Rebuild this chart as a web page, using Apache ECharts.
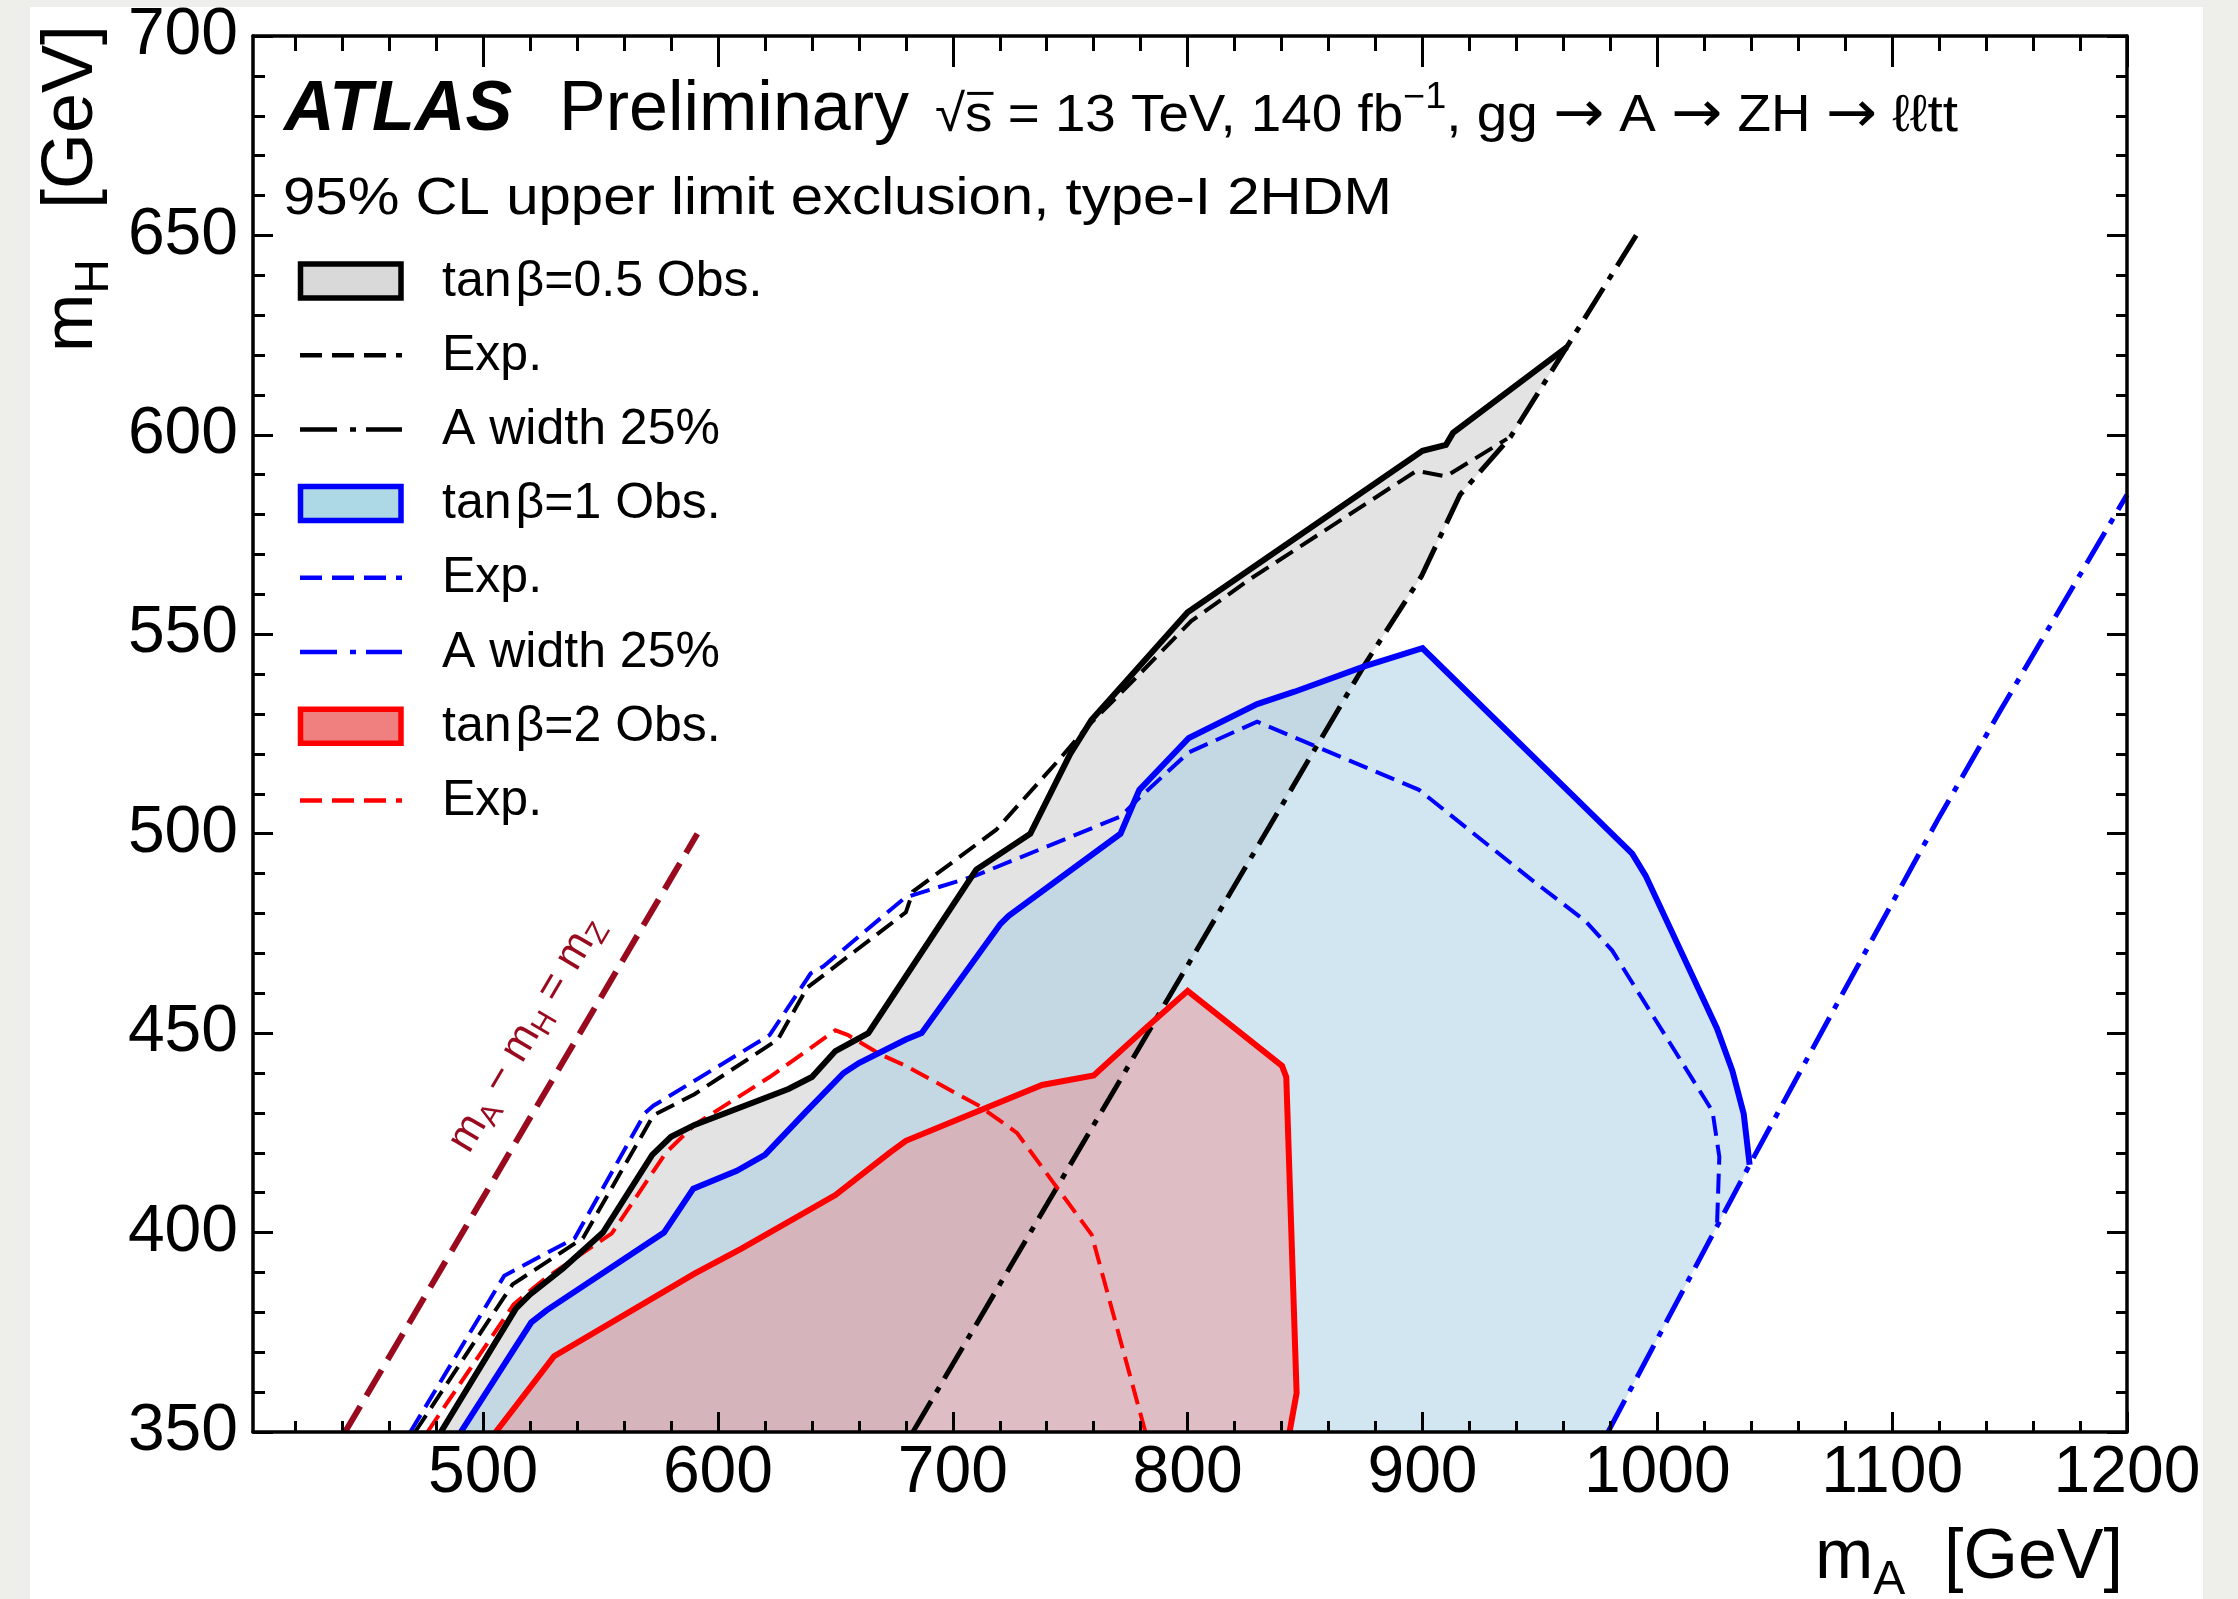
<!DOCTYPE html>
<html><head><meta charset="utf-8">
<script src="https://cdn.jsdelivr.net/npm/echarts@6/dist/echarts.min.js"></script>
<style>html,body{margin:0;padding:0;background:#eeeeea;} #c{width:2238px;height:1599px;}</style>
</head><body><div id="c"></div>
<script>
// ---------------- data (mA, mH) in GeV ----------------
const tb05Obs = [[482,350],[514,381],[520,384.5],[534,391],[551,400],[572,419.5],[580,424],[590,427],[630,436],[640,439],[650,445.5],[664,450],[710,491],[733,500],[750,520],[759,528.5],[800,555.5],[900,596],[910,597.5],[913,600.5],[961.5,622]];
const tb05Exp = [[471,350],[512.5,387],[542.5,398.6],[572.5,429.4],[590,434.7],[625.5,448.4],[638,461.4],[680,480.3],[683,485.5],[718.5,501],[745,518.4],[757.5,527],[777,538.5],[801.5,553.3],[826.5,563.8],[897.5,591],[910,589.6],[936,599]];
const tb05Width = [[683,350],[875.5,542.5],[899.5,564.5],[916,585],[937.5,599.5],[963,623.5],[991.5,650.5]];
const tb1Obs = [[490.5,350],[520.5,377.5],[527,380.5],[577,400],[589.5,411],[608,415.5],[620,419.5],[637,430],[653.5,440],[660,442.5],[680,448.4],[686.7,450],[720.3,477.4],[723.8,479.4],[771.4,500],[779.4,511],[800.5,524],[829.6,532.5],[845.5,535.6],[875.5,542],[900,546.5],[989.3,495],[995,489.5],[1025.4,451.2],[1032,440.5],[1036.8,429.7],[1039.3,417]];
const tb1Exp = [[469,350],[509,389.2],[539,398.6],[569,430],[572.5,431.8],[622,449.5],[639.5,465],[644.8,466.7],[679.7,484],[709.7,489.5],[771.4,504.3],[779.4,509],[800.5,520.4],[829.6,528.1],[898.5,511],[945.7,488.8],[969.4,478.1],[980.8,470.7],[1023.5,430.4],[1026.4,419],[1025.4,401.5]];
const tb1Width = [[979,350],[1039.3,417],[1075.8,456.6],[1119.5,503.6],[1145.7,530.5],[1200,585]];
const tb2Obs = [[505.4,350],[530.2,369],[590,389.7],[610,396],[650,409.4],[673,420],[680,423],[713,431],[738,437],[760,439.4],[782,451.2],[800,460.6],[840.2,441.8],[842,439],[846.4,359.8],[843.4,350]];
const tb2Exp = [[476.3,350],[513,382],[526.6,388.6],[554.8,399.8],[577.8,420],[590,427],[622,439],[650,450.7],[655.4,449.5],[669,444.7],[680,441.8],[711.4,431.7],[727.3,425],[743.2,412.2],[759.1,399.5],[782,350]];
const mzLine = [[441.2,350],[591.2,500]];

const xMajor = [500,600,700,800,900,1000,1100,1200];
const xMinor = [420,440,460,480,520,540,560,580,620,640,660,680,720,740,760,780,820,840,860,880,920,940,960,980,1020,1040,1060,1080,1120,1140,1160,1180];
const yMajor = [350,400,450,500,550,600,650,700];
const yMinor = [360,370,380,390,410,420,430,440,460,470,480,490,510,520,530,540,560,570,580,590,610,620,630,640,660,670,680,690];

const legendRows = [
  {label:'tanβ=0.5 Obs.', kind:'box', fill:'#d9d9d9', stroke:'#000000'},
  {label:'Exp.', kind:'dash', color:'#000000'},
  {label:'A width 25%', kind:'dashdot', color:'#000000'},
  {label:'tanβ=1 Obs.', kind:'box', fill:'#add8e6', stroke:'#0000ff'},
  {label:'Exp.', kind:'dash', color:'#0000ff'},
  {label:'A width 25%', kind:'dashdot', color:'#0000ff'},
  {label:'tanβ=2 Obs.', kind:'box', fill:'#f08080', stroke:'#ff0000'},
  {label:'Exp.', kind:'dash', color:'#ff0000'}
];

// ---------------- setup ----------------
const FF = '"Liberation Sans", Arial, Helvetica, sans-serif';
const FD = '"DejaVu Sans", sans-serif';
const XMIN = 402, XMAX = 1200, YMIN = 350, YMAX = 700;
const mctx = document.createElement('canvas').getContext('2d');
function tw(t, s, w, st, f){ mctx.font = (st||'normal') + ' ' + (w||'normal') + ' ' + s + 'px ' + (f||FF); return mctx.measureText(t).width; }
function runs(parts, x, y, opt){
  opt = opt || {};
  const color = opt.color || '#000';
  let cx = 0; const ch = [];
  for (const p of parts){
    if (p.gap !== undefined){ cx += p.gap; continue; }
    const wid = tw(p.t, p.s, p.w, p.st, p.f);
    const dy = p.dy || 0;
    ch.push({type:'text', x:cx, y:dy - 0.347*p.s, z:100, style:{text:p.t, fill:color, fontSize:p.s, fontFamily:p.f||FF, fontWeight:p.w||'normal', fontStyle:p.st||'normal', align:'left', verticalAlign:'middle'}});
    if (p.over){ ch.push({type:'line', z:100, shape:{x1:cx+2, y1:dy-0.8*p.s, x2:cx+wid+1, y2:dy-0.8*p.s}, style:{stroke:color, lineWidth:3}}); }
    cx += wid;
  }
  let sc = 1;
  if (opt.fit) sc = opt.fit / cx;
  if (opt.anchor === 'end'){
    ch.forEach(c => { if (c.type === 'text') c.x -= cx; else { c.shape.x1 -= cx; c.shape.x2 -= cx; } });
  }
  return {type:'group', x:x, y:y, rotation:opt.rot||0, scaleX:sc, z:100, children:ch};
}

const chart = echarts.init(document.getElementById('c'), null, {renderer:'canvas', width:2238, height:1599});

function mkAxis(dimMin, dimMax, a){
  return {
    type:'value', min:dimMin, max:dimMax, position:a.pos, z:10,
    axisLine:{show:!!a.line, onZero:false, lineStyle:{color:'#000', width:3.5}},
    axisTick:{show:true, inside:true, length:a.len, customValues:a.vals, lineStyle:{color:'#000', width:3}},
    axisLabel:{show:!!a.label, customValues:a.vals, margin:a.margin||10, color:'#000', fontSize:66, fontFamily:FF, formatter:function(v){return String(v);}},
    splitLine:{show:false}, minorTick:{show:false}, minorSplitLine:{show:false}
  };
}
const xAxes = [
  {pos:'bottom', vals:xMajor, len:20, label:true, line:true, margin:9},
  {pos:'bottom', vals:xMinor, len:11},
  {pos:'top', vals:xMajor, len:31, line:true},
  {pos:'top', vals:xMinor, len:15}
].map(a => mkAxis(XMIN, XMAX, a));
const yAxes = [
  {pos:'left', vals:yMajor, len:20, label:true, line:true, margin:15},
  {pos:'left', vals:yMinor, len:12},
  {pos:'right', vals:yMajor, len:20, line:true},
  {pos:'right', vals:yMinor, len:11}
].map(a => mkAxis(YMIN, YMAX, a));

function polySeries(pts, fill, z){
  return {type:'custom', coordinateSystem:'cartesian2d', xAxisIndex:0, yAxisIndex:0, clip:true, silent:true, z:z,
    data:pts, encode:{x:0, y:1},
    renderItem:function(params, api){
      if (params.dataIndex !== 0) return null;
      return {type:'polygon', shape:{points:pts.map(p => api.coord(p))}, style:{fill:fill, stroke:null}};
    }};
}
function lineSeries(pts, color, width, type, z){
  return {type:'line', data:pts, xAxisIndex:0, yAxisIndex:0, showSymbol:false, symbol:'none', clip:true, silent:true, animation:false, z:z,
    lineStyle:{color:color, width:width, type:type, cap:'butt', join:'miter'}};
}

const greyPoly = tb05Obs.concat(tb05Width.filter(p => p[0] < tb05Obs[tb05Obs.length-1][0]).reverse());
const bluePoly = tb1Obs.concat(tb1Width.filter(p => p[0] < tb1Obs[tb1Obs.length-1][0]).reverse());
const redPoly = tb2Obs.slice();

const DASH = [20, 9], DASHDOT = [36, 10, 6, 10];
chart.setOption({
  animation:false,
  backgroundColor:'#eeeeea',
  grid:{left:253, top:36, width:1874, height:1396, containLabel:false},
  xAxis:xAxes, yAxis:yAxes,
  series:[
    polySeries(greyPoly, 'rgba(200,200,200,0.5)', 1),
    polySeries(bluePoly, 'rgba(165,205,229,0.5)', 2),
    polySeries(redPoly, 'rgba(240,128,128,0.4)', 3),
    lineSeries(mzLine, '#990a1f', 6, [30, 12], 5),
    lineSeries(tb05Width, '#000000', 5, DASHDOT, 6),
    lineSeries(tb1Width, '#0000ff', 5, DASHDOT, 6),
    lineSeries(tb05Exp, '#000000', 4, DASH, 7),
    lineSeries(tb1Exp, '#0000ff', 4, DASH, 7),
    lineSeries(tb2Exp, '#ff0000', 4, DASH, 7),
    lineSeries(tb05Obs, '#000000', 6, 'solid', 8),
    lineSeries(tb1Obs, '#0000ff', 6, 'solid', 8),
    lineSeries(tb2Obs, '#ff0000', 6, 'solid', 8)
  ]
});

// ---------------- texts & legend ----------------
const g = [];
g.push({type:'rect', z:-100, silent:true, shape:{x:30, y:7, width:2173, height:1600}, style:{fill:'#ffffff'}});

g.push(runs([{t:'ATLAS', s:70, w:'bold', st:'italic'}], 284, 135));
g.push(runs([{t:'Preliminary', s:70}], 559, 135));
const AR = {t:'→', s:58, f:FD, dy:2};
g.push(runs([{t:'√', s:52}, {t:'s', s:52, over:true}, {t:' = 13 TeV, 140 fb', s:52}, {t:'−1', s:36, dy:-24}, {t:', gg ', s:52}, AR, {t:' A ', s:52}, AR, {t:' ZH ', s:52}, AR, {t:' ℓℓtt', s:52}], 935, 135, {fit:1023}));
g.push(runs([{t:'95% CL upper limit exclusion, type-I 2HDM', s:51}], 283, 218, {fit:1109}));

// legend
legendRows.forEach((r, i) => {
  const cy = 281 + 74.2*i;
  if (r.kind === 'box'){
    g.push({type:'rect', z:100, shape:{x:300.5, y:cy-17, width:100.5, height:34}, style:{fill:r.fill, stroke:r.stroke, lineWidth:5.5}});
  } else {
    g.push({type:'line', z:100, shape:{x1:300, y1:cy, x2:402, y2:cy}, style:{stroke:r.color, lineWidth:4.5, lineDash:r.kind==='dash'?[22,10]:[37,13,6,10]}});
  }
  const base = cy + 0.358*51;
  if (r.label.indexOf('tan') === 0){
    g.push(runs([{t:'tan', s:50}, {gap:4}, {t:r.label.slice(3), s:50}], 442, base));
  } else {
    g.push(runs([{t:r.label, s:50}], 442, base));
  }
});

// axis titles
g.push(runs([{t:'m', s:70}, {t:'A', s:48, dy:14}], 1815, 1583));
g.push(runs([{t:'[GeV]', s:70}], 2123, 1583, {anchor:'end'}));
g.push(runs([{t:'m', s:70}, {t:'H', s:48, dy:14}], 97, 352, {rot:Math.PI/2}));
g.push(runs([{t:'[GeV]', s:72}], 97, 25, {rot:Math.PI/2, anchor:'end'}));

// mA - mH = mZ label along the line
const p0 = chart.convertToPixel({gridIndex:0}, mzLine[0]);
const p1 = chart.convertToPixel({gridIndex:0}, mzLine[1]);
const dx = p1[0]-p0[0], dy = p1[1]-p0[1], L = Math.hypot(dx, dy);
const u = [dx/L, dy/L], n = [dy/L, -dx/L];
const along = 302, off = 31;
const sx = p0[0] + u[0]*along + n[0]*off, sy = p0[1] + u[1]*along + n[1]*off;
g.push(runs([{t:'m', s:43}, {t:'A', s:30, dy:7}, {t:' − m', s:43}, {t:'H', s:30, dy:7}, {t:' = m', s:43}, {t:'Z', s:30, dy:7}], sx, sy, {rot:Math.atan2(-dy, dx), color:'#990a1f'}));

chart.setOption({graphic:{elements:g}});
</script></body></html>
